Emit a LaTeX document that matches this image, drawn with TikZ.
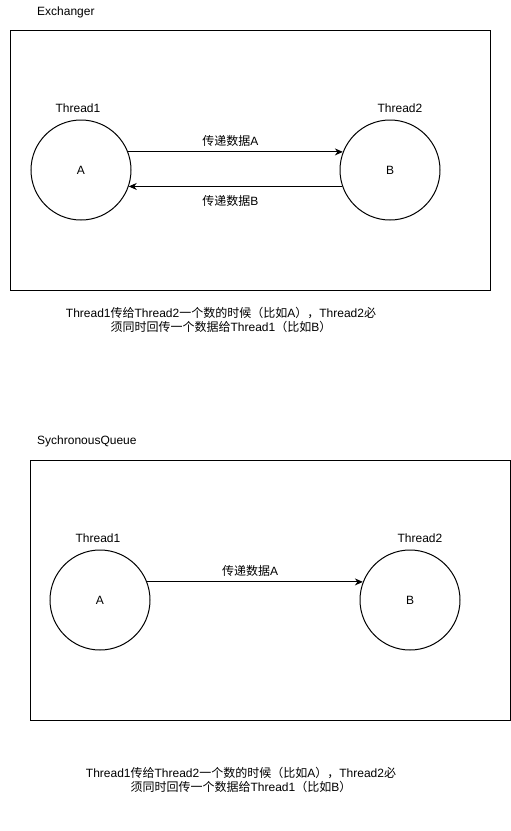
\documentclass[tikz,border=0pt]{standalone}
\usepackage{fontspec}
\setmainfont{Liberation Sans}
\newfontfamily\cjk{Noto Sans CJK SC}
\usetikzlibrary{arrows.meta,positioning}

\newcommand{\cn}[1]{{\cjk #1}}

\tikzset{
	every node/.style={font=\fontsize{12}{14.5}\selectfont, inner sep=0pt},
	thread/.style={circle, draw, line width=1pt, minimum size=100pt},
	panel/.style={draw, line width=1pt, minimum width=480pt, minimum height=260pt},
	pass/.style={-{Stealth[length=8pt,width=7pt]}, line width=1pt}
}

\begin{document}
\begin{tikzpicture}[x=1pt, y=-1pt]

\useasboundingbox (0,0) rectangle (511,831);

% Exchanger
\node[anchor=west] (ExTitle) at (37,12) {Exchanger};
\node[panel] (ExBox) at (250,160) {};

\node[thread] (ExA) at (81,170) {A};
\node[thread] (ExB) at (390,170) {B};

\node[above=6.5pt of ExA, xshift=-3pt] (ExT1) {Thread1};
\node[above=6.5pt of ExB, xshift=10pt] (ExT2) {Thread2};

\draw[pass] (ExA.21) -- node[above=5pt, xshift=-5pt] (ExLblA) {\cn{传递数据}A} (ExB.159);
\draw[pass] (ExB.-161) -- node[below=8pt, xshift=-5pt] (ExLblB) {\cn{传递数据}B} (ExA.-19);

\node[align=center] (ExNote) at (221,320)
	{Thread1\cn{传给}Thread2\cn{一个数的时候（比如}A\cn{），}Thread2\cn{必}\\
	\cn{须同时回传一个数据给}Thread1\cn{（比如}B\cn{）}};

% SychronousQueue
\node[anchor=west] (SqTitle) at (37,441) {SychronousQueue};
\node[panel] (SqBox) at (270,590) {};

\node[thread] (SqA) at (100,600) {A};
\node[thread] (SqB) at (410,600) {B};

\node[above=6.5pt of SqA, xshift=-2pt] (SqT1) {Thread1};
\node[above=6.5pt of SqB, xshift=10pt] (SqT2) {Thread2};

\draw[pass] (SqA.21) -- node[above=5pt, xshift=-5pt] (SqLblA) {\cn{传递数据}A} (SqB.159);

\node[align=center] (SqNote) at (241,780)
	{Thread1\cn{传给}Thread2\cn{一个数的时候（比如}A\cn{），}Thread2\cn{必}\\
	\cn{须同时回传一个数据给}Thread1\cn{（比如}B\cn{）}};

\end{tikzpicture}
\end{document}
